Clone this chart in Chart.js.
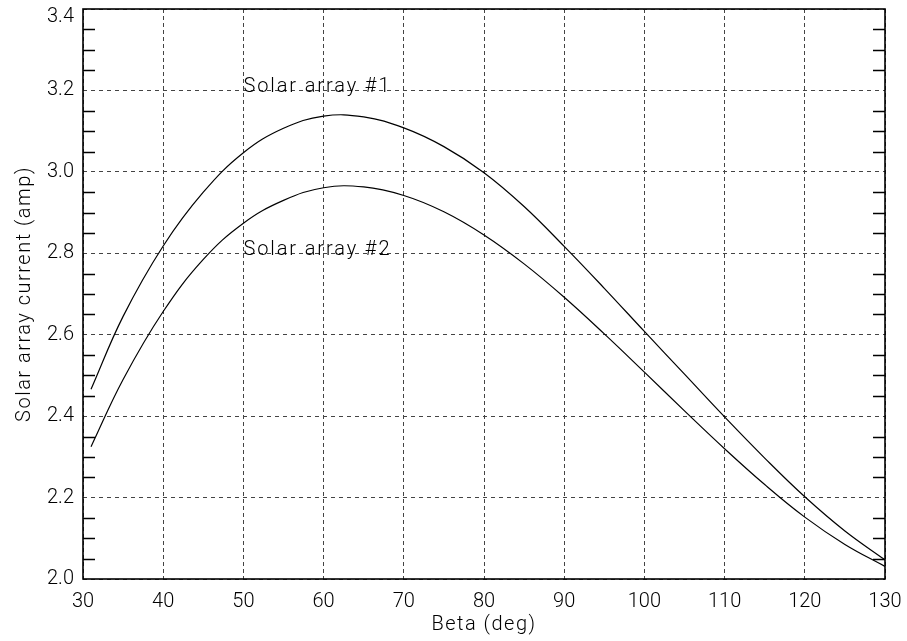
<!DOCTYPE html>
<html>
<head>
<meta charset="utf-8">
<script src="https://cdn.jsdelivr.net/npm/chart.js@4.4.1/dist/chart.umd.min.js"></script>
<style>
  html, body { margin: 0; padding: 0; background: #fff; }
  #wrap { width: 907px; height: 641px; }
</style>
</head>
<body>
<div id="wrap"><canvas id="c" width="907" height="641"></canvas></div>
<script>
// Beta angle (deg)
const betaDeg = [31, 35, 40, 45, 50, 55, 60, 65, 70, 75, 80, 85, 90, 95, 100, 105, 110, 115, 120, 125, 130];
// Solar array #1 current (amp)
const array1Current = [2.466, 2.645, 2.818, 2.950, 3.047, 3.107, 3.137, 3.135, 3.108, 3.062, 2.998, 2.915, 2.817, 2.714, 2.608, 2.503, 2.398, 2.297, 2.202, 2.118, 2.047];
// Solar array #2 current (amp)
const array2Current = [2.325, 2.490, 2.657, 2.785, 2.874, 2.930, 2.961, 2.963, 2.942, 2.902, 2.845, 2.774, 2.692, 2.602, 2.508, 2.413, 2.320, 2.232, 2.152, 2.085, 2.031];
// Curve labels and where they sit (data coordinates)
const curveLabels = ['Solar array #1', 'Solar array #2'];
const curveLabelX = [50, 50];
const curveLabelY = [3.2, 2.8];
// Axis titles
const xTitle = 'Beta (deg)';
const yTitle = 'Solar array current (amp)';
// Axis ranges / tick steps
const xMin = 30, xMax = 130, xStep = 10;
const yMin = 2.0, yMax = 3.4, yStep = 0.2, yMinorStep = 0.05;

const FONT = "Roboto, 'Liberation Sans', sans-serif";

function spacedTitle(s) {
  if (s._spaced) return;
  const orig = s.drawTitle;
  s.drawTitle = function () {
    this.ctx.save();
    try { this.ctx.letterSpacing = '1.5px'; } catch (e) {}
    orig.apply(this, arguments);
    this.ctx.restore();
  };
  s._spaced = true;
}

const overlay = {
  id: 'overlay',
  afterDraw(chart) {
    const {ctx, chartArea: a, scales} = chart;
    const ys = scales.y, xs = scales.x;
    ctx.save();
    // minor ticks on left and right, pointing inward
    ctx.strokeStyle = '#000';
    ctx.lineWidth = 1.3;
    const n = Math.round((yMax - yMin) / yMinorStep);
    for (let i = 0; i <= n; i++) {
      if (i % 4 === 0) continue;
      const v = yMin + i * yMinorStep;
      const py = Math.round(ys.getPixelForValue(v)) + 0.5;
      ctx.beginPath();
      ctx.moveTo(a.left, py); ctx.lineTo(a.left + 12, py);
      ctx.moveTo(a.right, py); ctx.lineTo(a.right - 12, py);
      ctx.stroke();
    }
    // frame
    ctx.lineWidth = 1.6;
    ctx.strokeRect(a.left, a.top, a.right - a.left, a.bottom - a.top);
    // curve labels
    ctx.fillStyle = '#000';
    ctx.font = "300 20px " + FONT;
    ctx.textBaseline = 'alphabetic';
    ctx.textAlign = 'left';
    try { ctx.letterSpacing = '1.9px'; } catch (e) {}
    curveLabels.forEach((t, i) => {
      ctx.fillText(t, xs.getPixelForValue(curveLabelX[i]), ys.getPixelForValue(curveLabelY[i]) + 2);
    });
    ctx.restore();
  }
};

const tickFont = { family: FONT, size: 20, weight: 300 };

new Chart(document.getElementById('c'), {
  type: 'line',
  data: {
    labels: betaDeg,
    datasets: [
      { label: curveLabels[0], data: betaDeg.map((b, i) => ({x: b, y: array1Current[i]})) },
      { label: curveLabels[1], data: betaDeg.map((b, i) => ({x: b, y: array2Current[i]})) }
    ]
  },
  options: {
    responsive: false,
    animation: false,
    devicePixelRatio: 1,
    layout: { padding: { top: 9, right: 22, left: 0, bottom: 0 } },
    elements: {
      line: { borderColor: '#000', borderWidth: 1.2, tension: 0.4, fill: false },
      point: { radius: 0 }
    },
    plugins: { legend: { display: false }, tooltip: { enabled: false } },
    scales: {
      x: {
        type: 'linear', min: xMin, max: xMax,
        afterFit(s) { s.height = 62; s.paddingLeft = 0; s.paddingRight = 0; spacedTitle(s); },
        ticks: { stepSize: xStep, color: '#000', padding: 11, font: tickFont, maxRotation: 0 },
        grid: { color: '#444', lineWidth: 1, drawTicks: false },
        border: { display: false, dash: [4, 3] },
        title: { display: true, text: xTitle, color: '#000', font: tickFont, padding: { top: 0, bottom: 4 } }
      },
      y: {
        type: 'linear', min: yMin, max: yMax,
        afterFit(s) { s.width = 83; s.paddingTop = 0; s.paddingBottom = 0; spacedTitle(s); },
        ticks: {
          stepSize: yStep, color: '#000', padding: 9,
          font: (c) => (c.tick && Math.abs(c.tick.value - yMax) < 1e-9)
            ? { family: FONT, size: 20, weight: 300, lineHeight: 0.75 }
            : tickFont,
          callback: (v) => Math.abs(v - yMax) < 1e-9 ? ['', Number(v).toFixed(1)] : Number(v).toFixed(1)
        },
        grid: { color: '#444', lineWidth: 1, drawTicks: false },
        border: { display: false, dash: [4, 4] },
        title: { display: true, text: yTitle, color: '#000', font: tickFont, padding: { top: 13, bottom: 0 } }
      }
    }
  },
  plugins: [overlay]
});
</script>
</body>
</html>
